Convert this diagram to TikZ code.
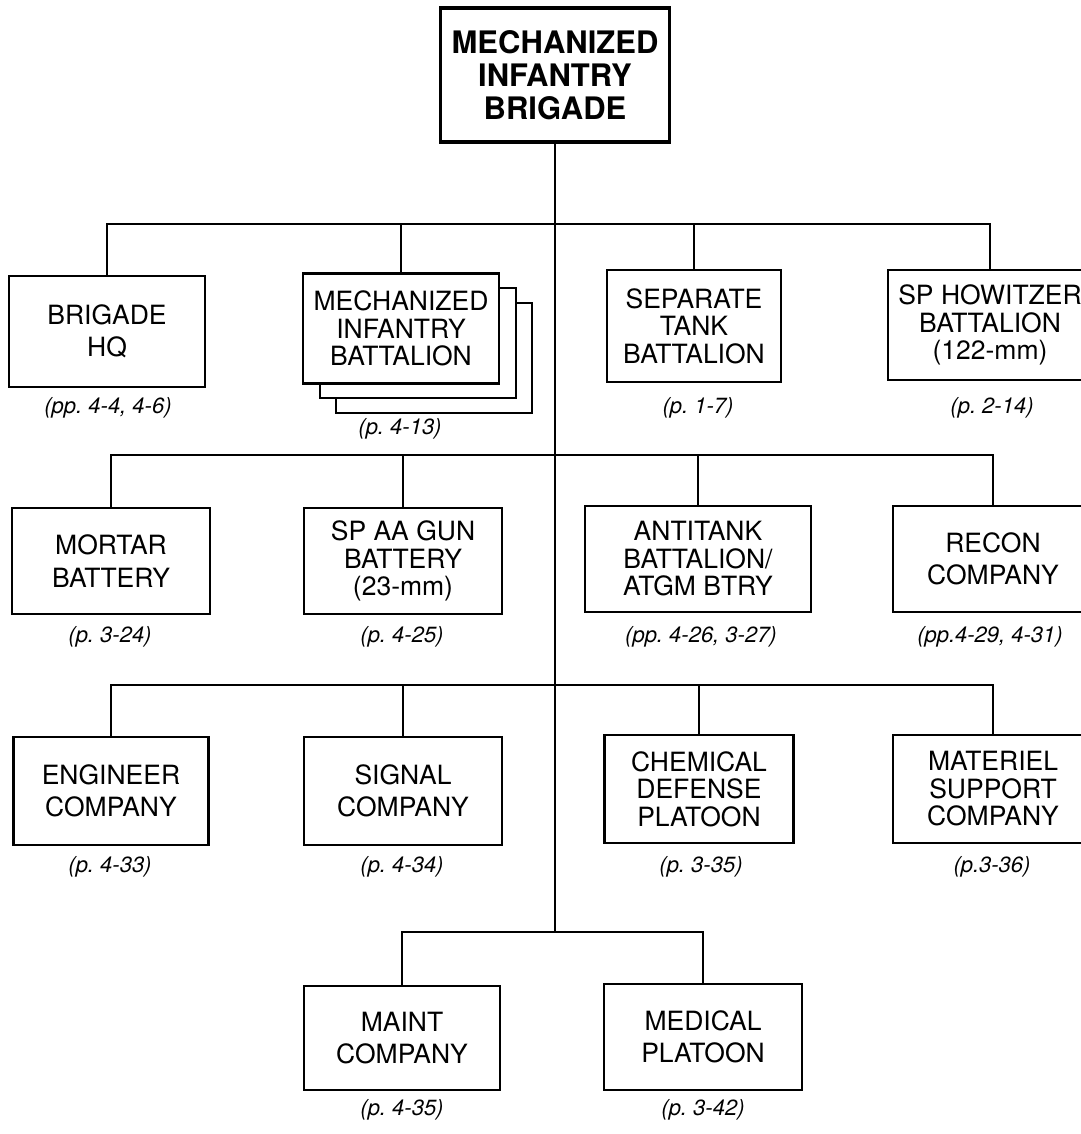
\documentclass[tikz,border=0pt]{standalone}
\usepackage{fontspec}
\setmainfont{TeX Gyre Heros}
\tikzset{
  unit/.style={draw, line width=2.8pt, fill=white, inner sep=0pt, align=center,
    font=\fontsize{26.5}{27.5}\selectfont},
  unittwo/.style={unit, font=\fontsize{26.5}{32.5}\selectfont},
  ref/.style={font=\fontsize{22}{24}\selectfont\itshape},
  link/.style={line width=2.3pt, line join=miter},
}
\begin{document}
\begin{tikzpicture}[x=1pt,y=-1pt]
\useasboundingbox (0,0) rectangle (1080,1134);
% brigade
\node[unit, line width=3.2pt, minimum width=229pt, minimum height=134pt,
  font=\bfseries\fontsize{31}{33}\selectfont] (bde) at (555,75) {MECHANIZED\\INFANTRY\\BRIGADE};
\coordinate (b1) at (555,224);
\coordinate (b2) at (555,455);
\coordinate (b3) at (555,685);
\coordinate (b4) at (555,932);

% first row
\node[unittwo, minimum width=196pt, minimum height=111pt] (hq) at (107,331.5) {BRIGADE\\HQ};
\node[unit, minimum width=196pt, minimum height=110pt] (mech3) at (434,358) {};
\node[unit, minimum width=196pt, minimum height=110pt] (mech2) at (418,343) {};
\node[unit, minimum width=196pt, minimum height=110pt] (mech) at (401,328.5) {MECHANIZED\\INFANTRY\\BATTALION};
\node[unit, minimum width=174pt, minimum height=112pt] (tank) at (694,326) {SEPARATE\\TANK\\BATTALION};
\node[unit, minimum width=204pt, minimum height=110pt] (how) at (990,325) {SP HOWITZER\\BATTALION\\(122-mm)};
\node[ref] (hqref) at (108,408) {(pp.\ 4-4, 4-6)};
\node[ref] (mechref) at (400,429) {(p.\ 4-13)};
\node[ref] (tankref) at (698,408) {(p.\ 1-7)};
\node[ref] (howref) at (992,408) {(p.\ 2-14)};

% second row
\node[unittwo, minimum width=198pt, minimum height=106pt] (mortar) at (111,561) {MORTAR\\BATTERY};
\node[unit, minimum width=198pt, minimum height=106pt] (aagun) at (403,561) {SP AA GUN\\BATTERY\\(23-mm)};
\node[unit, minimum width=226pt, minimum height=106pt] (atk) at (698,559) {ANTITANK\\BATTALION/\\ATGM BTRY};
\node[unittwo, minimum width=200pt, minimum height=106pt] (recon) at (993,559) {RECON\\COMPANY};
\node[ref] (mortarref) at (110,637) {(p.\ 3-24)};
\node[ref] (aagunref) at (402,637) {(p.\ 4-25)};
\node[ref] (atkref) at (701,637) {(pp.\ 4-26, 3-27)};
\node[ref] (reconref) at (990,637) {(pp.4-29, 4-31)};

% third row
\node[unittwo, minimum width=195pt, minimum height=108pt] (eng) at (111,791) {ENGINEER\\COMPANY};
\node[unittwo, minimum width=198pt, minimum height=108pt] (sig) at (403,791) {SIGNAL\\COMPANY};
\node[unit, minimum width=189pt, minimum height=108pt] (chem) at (699,789) {CHEMICAL\\DEFENSE\\PLATOON};
\node[unit, minimum width=200pt, minimum height=108pt] (mat) at (993,789) {MATERIEL\\SUPPORT\\COMPANY};
\node[ref] (engref) at (110,867) {(p.\ 4-33)};
\node[ref] (sigref) at (402,867) {(p.\ 4-34)};
\node[ref] (chemref) at (701,867) {(p.\ 3-35)};
\node[ref] (matref) at (992,867) {(p.3-36)};

% last row
\node[unittwo, minimum width=196pt, minimum height=104pt] (maint) at (402,1038) {MAINT\\COMPANY};
\node[unittwo, minimum width=198pt, minimum height=106pt] (med) at (703,1037) {MEDICAL\\PLATOON};
\node[ref] (maintref) at (402,1110) {(p.\ 4-35)};
\node[ref] (medref) at (703,1110) {(p.\ 3-42)};

% lines
\draw[link] (bde.south) -- (b4);
\draw[link] (hq.north) |- (b1) -| (how.north);
\draw[link] (mech.north) -- (mech.north |- b1);
\draw[link] (tank.north) -- (tank.north |- b1);
\draw[link] (mortar.north) |- (b2) -| (recon.north);
\draw[link] (aagun.north) -- (aagun.north |- b2);
\draw[link] (atk.north) -- (atk.north |- b2);
\draw[link] (eng.north) |- (b3) -| (mat.north);
\draw[link] (sig.north) -- (sig.north |- b3);
\draw[link] (chem.north) -- (chem.north |- b3);
\draw[link] (maint.north) |- (b4) -| (med.north);
\end{tikzpicture}
\end{document}
